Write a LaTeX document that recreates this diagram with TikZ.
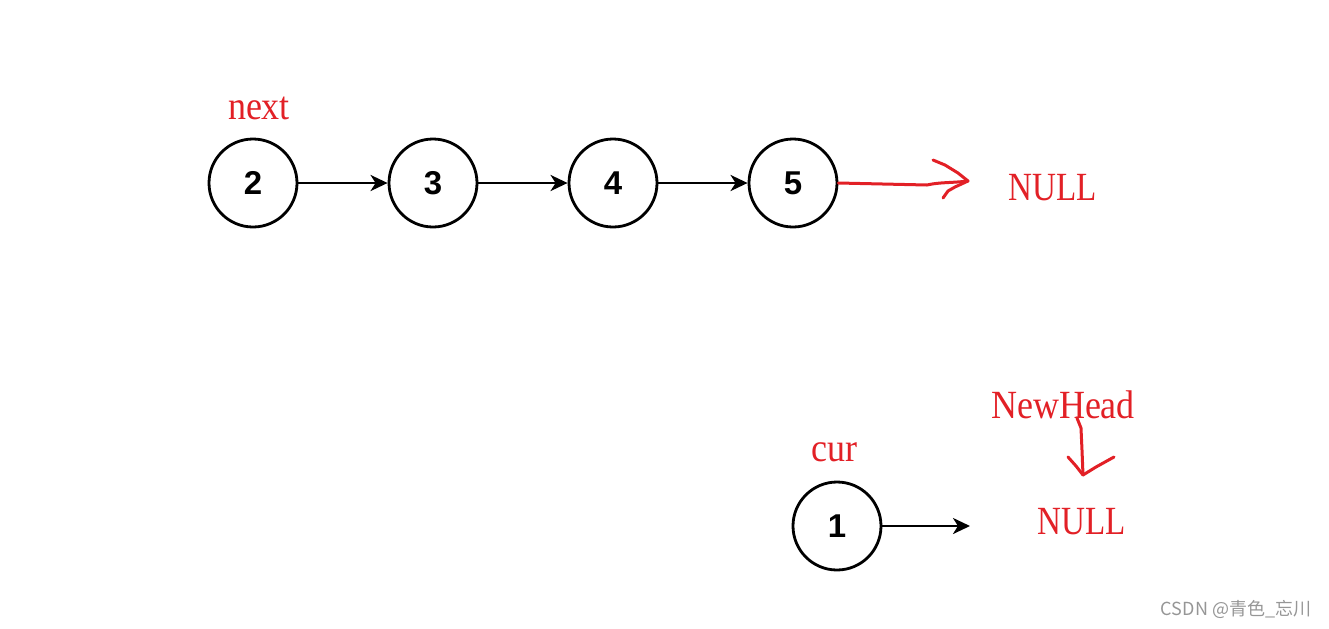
\documentclass[tikz,border=0pt]{standalone}
\usepackage{fontspec}
\setmainfont{Liberation Sans}
\newfontfamily\penfont[FakeStretch=0.9]{Liberation Serif}
\newfontfamily\cjkfont{Noto Sans CJK SC}
\usetikzlibrary{arrows.meta}
\definecolor{penred}{RGB}{226,32,38}
\definecolor{markgray}{RGB}{150,150,150}

\begin{document}
\begin{tikzpicture}[line join=round, line cap=round, x=0.5pt, y=-0.5pt,
    listnode/.style={circle, draw, line width=1.4pt, minimum size=44pt, inner sep=0pt,
      font=\fontsize{16.5}{16.5}\selectfont\bfseries},
    link/.style={line width=1.4pt, -{Stealth[length=8.5pt, width=8pt, inset=2.5pt]}},
    penlabel/.style={text=penred, inner sep=0pt, font=\fontsize{20}{20}\selectfont\penfont},
    penline/.style={draw=penred, line width=1.5pt}]
    % Parameters
    \def\gap{180}        % distance between list nodes (px)
    \def\rowy{183}       % y of the upper list

    % background / fixed size
    \useasboundingbox (0,0) rectangle (1329,628);

    % upper list 2 -> 3 -> 4 -> 5
    \foreach \v [count=\i from 0] in {2,3,4,5} {
      \node[listnode] (n\v) at ({253 + \gap*\i}, \rowy) {\v};
    }
    \foreach \a/\b in {2/3, 3/4, 4/5} {
      \draw[link] (n\a) -- (n\b);
    }

    % labels of the upper list
    \node[penlabel] (next) at (259,108) {next};
    \node[penlabel, xscale=0.92] (nulltop) at (1053,188) {NULL};

    % hand drawn red arrow 5 -> NULL
    \coordinate (tipA) at (968,181);
    \draw[penline] (n5.east) -- (927,185) .. controls (940,182) and (952,183) .. (tipA);
    \draw[penline] (933,160) -- (945,165) -- (958,173) -- (tipA)
      -- (955,187) -- (948,191) -- (943,198);

    % lower list: cur -> NULL
    \node[listnode] (n1) at (837,526) {1};
    \coordinate (endB) at (970,526);
    \draw[link] (n1) -- (endB);

    \node[penlabel] (cur) at (834,452) {cur};
    \node[penlabel] (newhead) at (1063,405) {NewHead};
    \node[penlabel, xscale=0.92] (nullbot) at (1082,522) {NULL};

    % hand drawn red arrow NewHead -> NULL
    \coordinate (tipB) at (1083,475);
    \draw[penline] (1077,418) -- (1081,428) -- (1082,450) -- (tipB);
    \draw[penline] (1068,457) -- (1076,466) -- (tipB) -- (1096,467) -- (1114,457);

    % watermark
    \node[text=markgray, inner sep=0pt, font=\fontsize{9}{9}\selectfont\cjkfont] (mark)
      at (1236,609) {CSDN @青色\_忘川};
\end{tikzpicture}
\end{document}
